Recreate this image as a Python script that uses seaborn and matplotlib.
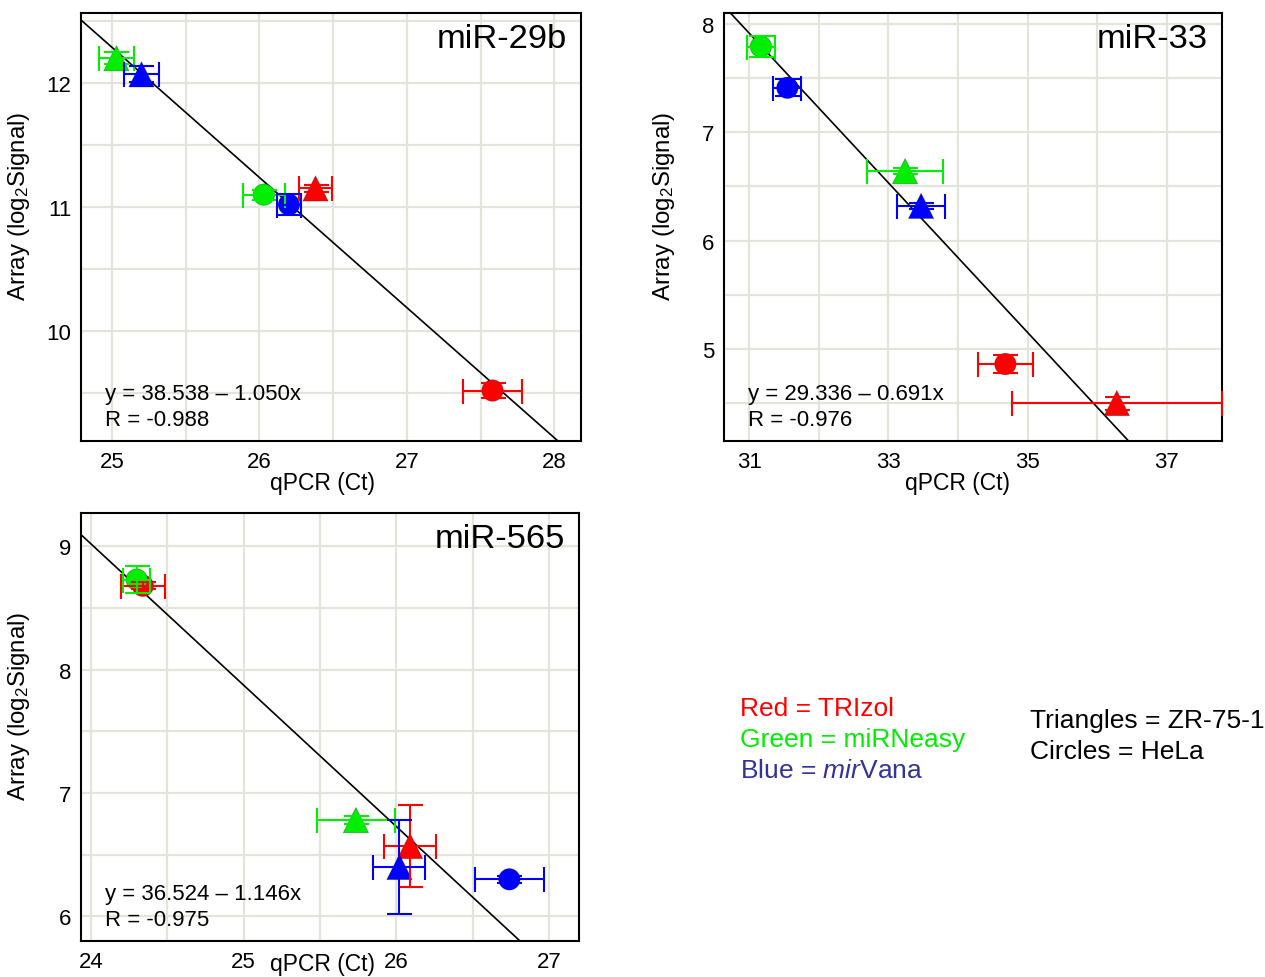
import numpy as np
import pandas as pd
import matplotlib
matplotlib.use("Agg")
import matplotlib.pyplot as plt
from matplotlib.ticker import MultipleLocator, FixedLocator
import seaborn as sns

# ---------------- data ----------------
mirnas = ["miR-29b", "miR-33", "miR-565"]
methods = ["TRIzol", "miRNeasy", "mirVana"]
method_colors = ["#ff0000", "#00ee00", "#0000ff"]
cells = ["ZR-75-1", "HeLa"]

point_method = ["TRIzol", "TRIzol", "miRNeasy", "miRNeasy", "mirVana", "mirVana"]
point_cell = ["ZR-75-1", "HeLa", "ZR-75-1", "HeLa", "ZR-75-1", "HeLa"]

qpcr_29b = [26.38, 27.58, 25.03, 26.03, 25.20, 26.20]
array_29b = [11.15, 9.52, 12.20, 11.10, 12.07, 11.02]
qpcr_sd_29b = [0.11, 0.20, 0.12, 0.14, 0.12, 0.08]
array_sd_29b = [0.03, 0.06, 0.05, 0.04, 0.065, 0.085]

qpcr_33 = [36.28, 34.68, 33.24, 31.17, 33.47, 31.55]
array_33 = [4.50, 4.86, 6.64, 7.79, 6.32, 7.41]
qpcr_sd_33 = [1.51, 0.40, 0.54, 0.20, 0.35, 0.20]
array_sd_33 = [0.06, 0.085, 0.03, 0.10, 0.03, 0.08]

qpcr_565 = [26.09, 24.34, 25.735, 24.30, 26.02, 26.74]
array_565 = [6.57, 8.68, 6.78, 8.73, 6.40, 6.30]
qpcr_sd_565 = [0.17, 0.145, 0.255, 0.09, 0.17, 0.225]
array_sd_565 = [0.33, 0.03, 0.03, 0.11, 0.38, 0.03]

fit_intercepts = [38.538, 29.336, 36.524]
fit_slopes = [-1.050, -0.691, -1.146]
r_values = [-0.988, -0.976, -0.975]

xticks_29b = [25, 26, 27, 28]
xticks_33 = [31, 33, 35, 37]
xticks_565 = [24, 25, 26, 27]

legend_method_lines = ["Red = TRIzol", "Green = miRNeasy", r"Blue = $\it{mir}$Vana"]
legend_method_colors = ["#ff0000", "#00ee00", "#333399"]
legend_cell_lines = ["Triangles = ZR-75-1", "Circles = HeLa"]

# ---------------- style ----------------
sns.set_theme(style="white")
plt.rcParams["font.family"] = ["Liberation Sans", "DejaVu Sans"]
plt.rcParams["mathtext.fontset"] = "custom"
plt.rcParams["mathtext.rm"] = "Liberation Sans"
plt.rcParams["mathtext.it"] = "Liberation Sans:italic"
plt.rcParams["mathtext.default"] = "regular"

fig = plt.figure(figsize=(12.65, 9.78), dpi=100)

panels = [
    dict(q=qpcr_29b, a=array_29b, qs=qpcr_sd_29b, as_=array_sd_29b,
         xticks=xticks_29b,
         rect=[81 / 1265, 1 - 442 / 978, 500 / 1265, 428 / 978],
         xlim=(24.79, 28.18), ylim=(9.113, 12.565),
         xmin=0.5, ymaj=1, ymin=0.5,
         ylab_x=-0.098, xlab=(0.484, -0.07)),
    dict(q=qpcr_33, a=array_33, qs=qpcr_sd_33, as_=array_sd_33,
         xticks=xticks_33,
         rect=[724 / 1265, 1 - 442 / 978, 498 / 1265, 428 / 978],
         xlim=(30.64, 37.79), ylim=(4.15, 8.10),
         xmin=1, ymaj=1, ymin=0.5,
         ylab_x=-0.094, xlab=(0.468, -0.07)),
    dict(q=qpcr_565, a=array_565, qs=qpcr_sd_565, as_=array_sd_565,
         xticks=xticks_565,
         rect=[81 / 1265, 1 - 942 / 978, 498 / 1265, 428 / 978],
         xlim=(23.935, 27.196), ylim=(5.80, 9.27),
         xmin=0.5, ymaj=1, ymin=0.5,
         ylab_x=-0.098, xlab=(0.484, -0.026)),
]

palette = dict(zip(methods, method_colors))
marker_map = {"ZR-75-1": "^", "HeLa": "o"}
size_map = {"ZR-75-1": 330, "HeLa": 240}

for i, p in enumerate(panels):
    ax = fig.add_axes(p["rect"])
    df = pd.DataFrame({"qpcr": p["q"], "array": p["a"],
                       "qpcr_sd": p["qs"], "array_sd": p["as_"],
                       "method": point_method, "cell": point_cell})
    ax.set_xlim(*p["xlim"])
    ax.set_ylim(*p["ylim"])

    # grid
    ax.xaxis.set_major_locator(FixedLocator(p["xticks"]))
    ax.xaxis.set_minor_locator(MultipleLocator(p["xmin"]))
    ax.yaxis.set_major_locator(MultipleLocator(p["ymaj"]))
    ax.yaxis.set_minor_locator(MultipleLocator(p["ymin"]))
    ax.grid(True, which="both", color="#e4e4dc", lw=1.6, zorder=0)
    ax.set_axisbelow(True)

    # regression line
    ax.axline((0, fit_intercepts[i]), slope=fit_slopes[i], color="black",
              lw=1.2, zorder=2)

    # markers
    sns.scatterplot(data=df, x="qpcr", y="array", hue="method", style="cell",
                    size="cell", sizes=size_map,
                    palette=palette, markers=marker_map,
                    edgecolor=(0, 0, 0, 0.3), linewidth=0.6,
                    legend=False, ax=ax, zorder=3)

    # error bars
    for _, row in df.iterrows():
        ax.errorbar(row["qpcr"], row["array"], xerr=row["qpcr_sd"],
                    yerr=row["array_sd"], fmt="none",
                    ecolor=palette[row["method"]], elinewidth=1.5,
                    capsize=9, capthick=1.5, zorder=4)

    for s in ax.spines.values():
        s.set_color("black")
        s.set_linewidth(1.5)
    ax.tick_params(axis="both", which="both", length=0, labelsize=16, pad=7,
                   colors="black")

    ax.set_xlabel("qPCR (Ct)", fontsize=16.5, color="black")
    ax.set_ylabel(r"Array (log$_2$Signal)", fontsize=17.3, color="black")
    ax.yaxis.set_label_coords(p["ylab_x"], 0.55)
    ax.xaxis.set_label_coords(*p["xlab"])

    ax.text(0.972, 0.94, mirnas[i], transform=ax.transAxes, ha="right",
            va="center", fontsize=24.8, color="black")
    slope_txt = f"{abs(fit_slopes[i]):.3f}"
    ax.text(0.048, 0.11, f"y = {fit_intercepts[i]:.3f} \u2013 {slope_txt}x",
            transform=ax.transAxes, ha="left", va="center", fontsize=16,
            color="black")
    ax.text(0.048, 0.051, f"R = {r_values[i]:.3f}", transform=ax.transAxes,
            ha="left", va="center", fontsize=16, color="black")

# legend text
for j, (txt, col) in enumerate(zip(legend_method_lines, legend_method_colors)):
    fig.text(740 / 1265, 1 - (709 + 31 * j) / 978, txt, color=col,
             fontsize=19, ha="left", va="center")
for j, txt in enumerate(legend_cell_lines):
    fig.text(1030 / 1265, 1 - (721 + 31 * j) / 978, txt, color="black",
             fontsize=19, ha="left", va="center")

fig.savefig("out.png", dpi=100)
